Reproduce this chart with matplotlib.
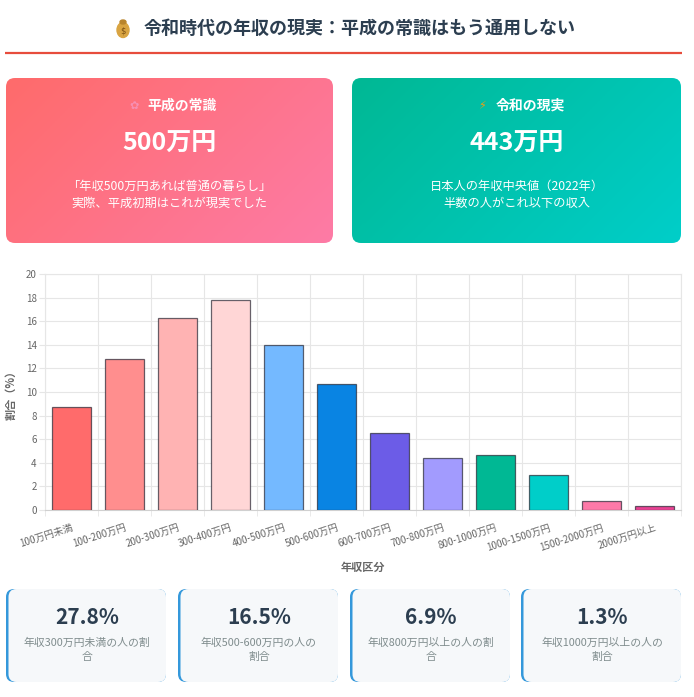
import numpy as np
import matplotlib
matplotlib.use('Agg')
import matplotlib.pyplot as plt
from matplotlib.patches import FancyBboxPatch, Ellipse
from matplotlib.colors import LinearSegmentedColormap

plt.rcParams['font.family'] = ['Noto Sans CJK JP', 'DejaVu Sans']

# data
categories = ['100万円未満', '100-200万円', '200-300万円', '300-400万円', '400-500万円',
              '500-600万円', '600-700万円', '700-800万円', '800-1000万円',
              '1000-1500万円', '1500-2000万円', '2000万円以上']
shares = [8.7, 12.8, 16.3, 17.8, 14.0, 10.7, 6.5, 4.4, 4.7, 3.0, 0.8, 0.3]
bar_colors = ['#ff6b6b', '#ff8e8e', '#ffb3b3', '#ffd6d6', '#74b9ff', '#0984e3',
              '#6c5ce7', '#a29bfe', '#00b894', '#00cec9', '#fd79a8', '#e84393']

title = '令和時代の年収の現実：平成の常識はもう通用しない'
card_titles = ['平成の常識', '令和の現実']
card_values = ['500万円', '443万円']
card_texts = ['「年収500万円あれば普通の暮らし」\n実際、平成初期はこれが現実でした',
              '日本人の年収中央値（2022年）\n半数の人がこれ以下の収入']
stat_values = ['27.8%', '16.5%', '6.9%', '1.3%']
stat_labels = ['年収300万円未満の人の割\n合', '年収500-600万円の人の\n割合',
               '年収800万円以上の人の割\n合', '年収1000万円以上の人の\n割合']

W, H = 694, 697
fig = plt.figure(figsize=(W / 100, H / 100), dpi=100)
fig.patch.set_facecolor('white')

# background axes in pixel coords
bg = fig.add_axes([0, 0, 1, 1])
bg.set_xlim(0, W)
bg.set_ylim(H, 0)
bg.axis('off')

# title
bg.text(360, 28, title, ha='center', va='center', fontsize=13, fontweight='bold', color='#2c3e50')
bg.add_patch(Ellipse((123, 30), 12, 15, color='#d9a441'))
bg.add_patch(Ellipse((123, 22), 6, 4, color='#b8842c'))
bg.text(123, 31, '$', ha='center', va='center', fontsize=6, color='#7a4f12', family='DejaVu Sans')
bg.plot([5, 682], [53, 53], color='#e74c3c', lw=1.6, solid_capstyle='butt')


def gradient_card(x0, y0, w, h, c1, c2):
    patch = FancyBboxPatch((x0, y0), w, h, boxstyle='round,pad=0,rounding_size=9',
                           fc='none', ec='none')
    bg.add_patch(patch)
    gx, gy = np.meshgrid(np.linspace(0, 1, 200), np.linspace(0, 1, 100))
    t = (gx * w + gy * h) / (w + h)
    cmap = LinearSegmentedColormap.from_list('g', [c1, c2])
    im = bg.imshow(t, cmap=cmap, extent=(x0, x0 + w, y0 + h, y0), origin='upper',
                   aspect='auto', zorder=1)
    im.set_clip_path(patch)


gradient_card(6, 78, 327, 165, '#ff6b6b', '#fd7ba6')
gradient_card(352, 78, 329, 165, '#00b894', '#00cec9')
bg.set_xlim(0, W)
bg.set_ylim(H, 0)

card_cx = [169.5, 516.5]
title_cx = [182, 530]
icon_x = [134, 482]
for i in range(2):
    bg.text(title_cx[i], 106, card_titles[i], ha='center', va='center', fontsize=10,
            fontweight='bold', color='white', zorder=3)
    bg.text(card_cx[i], 144, card_values[i], ha='center', va='center', fontsize=18,
            fontweight='bold', color='white', zorder=3)
    bg.text(card_cx[i], 195, card_texts[i], ha='center', va='center', fontsize=8.8,
            color='white', linespacing=1.35, zorder=3)
bg.text(icon_x[0], 106, '✿', ha='center', va='center', fontsize=8, color='#f78fb3',
        family='DejaVu Sans', zorder=3)
bg.text(icon_x[1], 106, '⚡', ha='center', va='center', fontsize=8, color='#f39c12',
        family='DejaVu Sans', zorder=3)

# stat cards
stat_x = [6, 178, 350, 521]
for i in range(4):
    x0 = stat_x[i]
    bg.add_patch(FancyBboxPatch((x0, 589), 160, 93, boxstyle='round,pad=0,rounding_size=8',
                                fc='#3498db', ec='none', zorder=1))
    bg.add_patch(FancyBboxPatch((x0 + 2.5, 589), 157.5, 93, boxstyle='round,pad=0,rounding_size=8',
                                fc='#f6f8fa', ec='none', zorder=2))
    cx = x0 + 81
    bg.text(cx, 617, stat_values[i], ha='center', va='center', fontsize=15,
            fontweight='bold', color='#2c3e50', zorder=3)
    bg.text(cx, 650, stat_labels[i], ha='center', va='center', fontsize=7.8,
            color='#7f8c8d', linespacing=1.45, zorder=3)

# bar chart
grid_c = '#e6e6e6'
ax = fig.add_axes([45 / W, 1 - 510 / H, 636 / W, 236 / H])
x = np.arange(len(categories))
ax.bar(x, shares, width=0.72, color=bar_colors, edgecolor=(0.15, 0.15, 0.2, 0.7),
       linewidth=0.9, zorder=3)
ax.set_xlim(-0.5, len(categories) - 0.5)
ax.set_ylim(0, 20)
ax.set_yticks(np.arange(0, 21, 2))
ax.set_xticks(x)
ax.set_xticklabels(categories, rotation=18, ha='right', rotation_mode='anchor')
ax.set_xticks(np.arange(-0.5, len(categories)), minor=True)
ax.tick_params(axis='x', which='major', length=0, labelsize=7, labelcolor='#666666', pad=9)
ax.tick_params(axis='x', which='minor', length=4, color=grid_c)
ax.tick_params(axis='y', length=4, color=grid_c, labelsize=7, labelcolor='#666666', pad=2)
ax.grid(axis='y', color=grid_c, lw=0.8, zorder=0)
ax.grid(axis='x', which='minor', color=grid_c, lw=0.8, zorder=0)
for s in ax.spines.values():
    s.set_color(grid_c)
    s.set_linewidth(0.8)
ax.spines['bottom'].set_color('#d0d0d0')
ax.set_ylabel('割合（%）', fontsize=8, fontweight='bold', color='#666666', labelpad=6)
ax.set_xlabel('年収区分', fontsize=8, fontweight='bold', color='#666666', labelpad=6)

fig.savefig('out.png', dpi=100, facecolor='white')
